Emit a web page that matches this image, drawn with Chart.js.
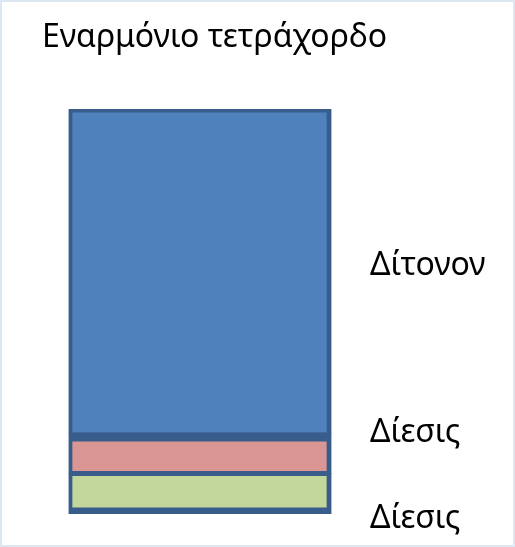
<!DOCTYPE html>
<html>
<head>
<meta charset="utf-8">
<script src="https://cdn.jsdelivr.net/npm/chart.js@4.4.1/dist/chart.umd.min.js"></script>
<style>
  body { margin: 0; background: #fff; }
  #wrap { position: relative; width: 515px; height: 547px; }
  #frame { position: absolute; left: 0; top: 0; right: 0; bottom: 0; border: 2px solid #dde7f1; pointer-events: none; }
</style>
</head>
<body>
<div id="wrap">
  <canvas id="tetraChart" width="515" height="547"></canvas>
  <div id="frame"></div>
</div>
<script>
// DATA
const chartTitle = 'Εναρμόνιο τετράχορδο';
const categories = ['Τετράχορδο'];
// bottom to top, in parts of the fourth (30)
const segmentNames = ['Δίεσις', 'Δίεσις', 'Δίτονον'];
const segmentParts = [3, 3, 24];
const fourthParts = 30;

// styling
const fillColors = ['#c3d69b', '#d99694', '#4f81bd'];
const edgeColor = '#385d8a';
const edgeWidths = [
  { top: 3, right: 5, bottom: 7, left: 4 },
  { top: 9, right: 5, bottom: 3, left: 4 },
  { top: 4, right: 5, bottom: 1, left: 4 }
];
const labelShift = [34, -11, 4];
const fontFamily = '"Noto Sans", "Open Sans", sans-serif';
const textSize = 32;

// title and labels to the right of each segment
// (the built-in title gets squeezed to the chart width, so draw it here)
const textLayer = {
  id: 'textLayer',
  afterDatasetsDraw(chart) {
    const ctx = chart.ctx;
    ctx.save();
    ctx.font = textSize + 'px ' + fontFamily;
    ctx.fillStyle = '#000';
    ctx.textBaseline = 'alphabetic';
    ctx.textAlign = 'left';
    ctx.fillText(chartTitle, 42, 47);
    chart.data.datasets.forEach((ds, i) => {
      const bar = chart.getDatasetMeta(i).data[0];
      const mid = (bar.y + bar.base) / 2;
      ctx.fillText(ds.label, chart.chartArea.right + 12, mid + labelShift[i]);
    });
    ctx.restore();
  }
};

const ctx = document.getElementById('tetraChart').getContext('2d');
const tetraChart = new Chart(ctx, {
  type: 'bar',
  data: {
    labels: categories,
    datasets: segmentNames.map((name, i) => ({
      label: name,
      data: [segmentParts[i]],
      backgroundColor: fillColors[i],
      borderColor: edgeColor,
      borderWidth: edgeWidths[i],
      borderSkipped: false,
      inflateAmount: 0.5,
      barPercentage: 0.83,
      categoryPercentage: 1
    }))
  },
  options: {
    responsive: false,
    animation: false,
    devicePixelRatio: 1,
    layout: {
      padding: { left: 42, right: 157, top: 109, bottom: 33 }
    },
    scales: {
      x: { stacked: true, display: false },
      y: { stacked: true, display: false, min: 0, max: fourthParts }
    },
    plugins: {
      legend: { display: false },
      tooltip: { enabled: false },
      title: { display: false }
    }
  },
  plugins: [textLayer]
});
</script>
</body>
</html>
